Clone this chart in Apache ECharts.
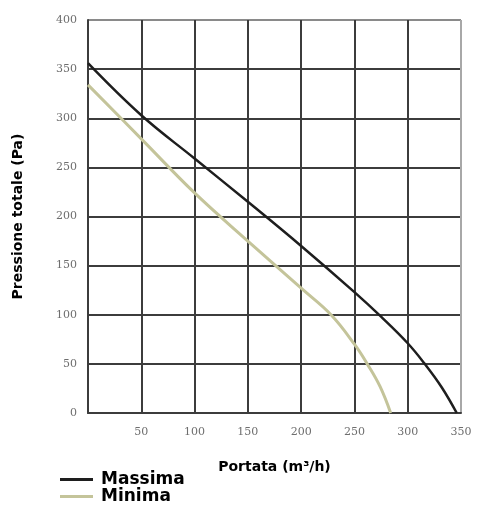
<!DOCTYPE html>
<html>
<head>
<meta charset="utf-8">
<script src="https://cdn.jsdelivr.net/npm/echarts@6/dist/echarts.min.js"></script>
<style>html,body{margin:0;padding:0;background:#fff;}#c{width:496px;height:509px;}</style>
</head>
<body>
<div id="c"></div>
<script>
const xTicks = [0, 50, 100, 150, 200, 250, 300, 350];
const yTicks = [0, 50, 100, 150, 200, 250, 300, 350, 400];
const seriesNames = ['Massima', 'Minima'];
const massima = [[0,356],[50,303],[100,259],[150,215],[200,170],[250,123],[275,98],[300,71],[316,50],[332,26],[346,0]];
const minima = [[0,334],[50,279],[100,224],[150,175],[200,127],[228,100],[250,70],[262,50],[274,27],[284,0]];
const xTitle = 'Portata (m³/h)';
const yTitle = 'Pressione totale (Pa)';

const gridDark = '#3c3c3c';
const chart = echarts.init(document.getElementById('c'), null, {renderer: 'canvas'});
const yColors = yTicks.map((v, i) => i === yTicks.length - 1 ? '#8a8a8a' : gridDark);
const xColors = xTicks.map((v, i) => i === xTicks.length - 1 ? '#a8a8a8' : gridDark);
chart.setOption({
  backgroundColor: '#fff',
  animation: false,
  grid: {left: 88, right: 35, top: 20, bottom: 96},
  legend: {
    orient: 'vertical', left: 60, top: 471, height: 60, padding: 0, itemGap: 0,
    itemWidth: 33, itemHeight: 3, icon: 'rect',
    textStyle: {fontFamily: 'DejaVu Sans', fontWeight: 'bold', fontSize: 17, lineHeight: 17, color: '#000', padding: [0,0,0,3]},
    data: seriesNames
  },
  xAxis: {
    type: 'value', min: xTicks[0], max: xTicks[xTicks.length-1], interval: 50,
    name: xTitle, nameLocation: 'middle', nameGap: 47,
    nameTextStyle: {fontFamily: 'DejaVu Sans', fontWeight: 'bold', fontSize: 14, color: '#000', align: 'center'},
    axisLine: {show: true, lineStyle: {color: gridDark, width: 2}},
    axisTick: {show: false},
    axisLabel: {margin: 14, color: '#6e6e6e', fontFamily: 'DejaVu Serif', fontSize: 11,
      formatter: v => v === 0 ? '' : String(v)},
    splitLine: {show: true, lineStyle: {color: xColors, width: 2}}
  },
  yAxis: {
    type: 'value', min: yTicks[0], max: yTicks[yTicks.length-1], interval: 50,
    name: yTitle, nameLocation: 'middle', nameGap: 63, nameRotate: 90,
    nameTextStyle: {fontFamily: 'DejaVu Sans', fontWeight: 'bold', fontSize: 14, color: '#000'},
    axisLine: {show: true, lineStyle: {color: gridDark, width: 2}},
    axisTick: {show: false},
    axisLabel: {margin: 11, color: '#6e6e6e', fontFamily: 'DejaVu Serif', fontSize: 11},
    splitLine: {show: true, lineStyle: {color: yColors, width: 2}}
  },
  series: [
    {name: seriesNames[0], type: 'line', data: massima, smooth: 0.4, symbol: 'none',
     lineStyle: {color: '#1e1e1e', width: 2.5}, itemStyle: {color: '#1e1e1e'}, z: 3},
    {name: seriesNames[1], type: 'line', data: minima, smooth: 0.4, symbol: 'none',
     lineStyle: {color: '#c4c49a', width: 3}, itemStyle: {color: '#c4c49a'}, z: 2}
  ]
});
</script>
</body>
</html>
